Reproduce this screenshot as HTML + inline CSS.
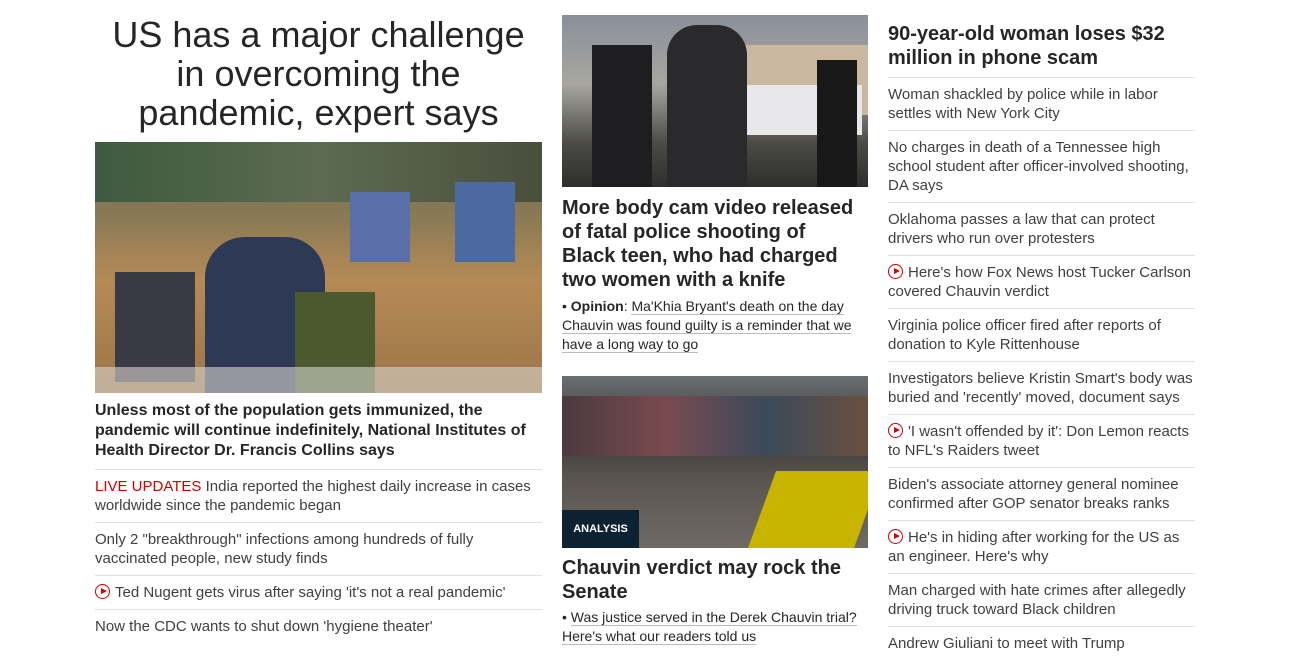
<!DOCTYPE html>
<html><head><meta charset="utf-8"><style>
*{margin:0;padding:0;box-sizing:border-box}
body{width:1290px;height:670px;overflow:hidden;background:#fff;font-family:"Liberation Sans",Arial,sans-serif;color:#262626;position:relative}
.col{position:absolute;top:0}
.h1{font-size:36px;line-height:39px;text-align:center;font-weight:400;color:#262626;margin-top:15px;padding:0 10px}
.img{position:relative;overflow:hidden}
.cap{font-weight:700;font-size:16px;line-height:20px;color:#262626}
.item{font-size:15px;line-height:19px;border-top:1px solid #e1e1e1;padding:7px 0 7px;color:#404040}
.live{color:#cc0000}
.play{display:inline-block;width:15px;height:15px;border:1.5px solid #cc0000;border-radius:50%;position:relative;vertical-align:-2px;margin-right:5px}
.play:after{content:"";position:absolute;left:4.5px;top:2.5px;border-left:6px solid #cc0000;border-top:3.5px solid transparent;border-bottom:3.5px solid transparent}
.h2{font-weight:700;font-size:20px;line-height:24px;color:#262626}
.sub{font-size:14px;line-height:19px;color:#262626}
.sub span.u{border-bottom:1px solid #bbb}
</style></head><body>
<div class="col" style="left:95px;width:447px">
 <h1 class="h1">US has a major challenge in overcoming the pandemic, expert says</h1>
 <div class="img" style="margin-top:10px;height:251px;background:linear-gradient(180deg,#6b6a55 0%,#8a7a55 30%,#b58a55 55%,#9c7448 100%)">
  <div style="position:absolute;left:0;top:0;width:447px;height:60px;background:linear-gradient(90deg,#3d5a3f,#5c6b52,#4a4e3c)"></div>
  <div style="position:absolute;left:110px;top:95px;width:120px;height:156px;background:#2e3a55;border-radius:40px 40px 0 0"></div>
  <div style="position:absolute;left:200px;top:150px;width:80px;height:101px;background:#4a5a2e"></div>
  <div style="position:absolute;left:20px;top:130px;width:80px;height:110px;background:#3a3a44"></div>
  <div style="position:absolute;left:255px;top:50px;width:60px;height:70px;background:#5a6fa8"></div>
  <div style="position:absolute;left:360px;top:40px;width:60px;height:80px;background:#4a6aa0"></div>
  <div style="position:absolute;left:0;top:225px;width:447px;height:26px;background:#d8d6d0;opacity:.6"></div>
 </div>
 <div class="cap" style="margin-top:8px;padding-bottom:8px">Unless most of the population gets immunized, the pandemic will continue indefinitely, National Institutes of Health Director Dr. Francis Collins says</div>
 <div class="item"><span class="live">LIVE UPDATES</span> India reported the highest daily increase in cases worldwide since the pandemic began</div>
 <div class="item">Only 2 "breakthrough" infections among hundreds of fully vaccinated people, new study finds</div>
 <div class="item"><span class="play"></span>Ted Nugent gets virus after saying 'it's not a real pandemic'</div>
 <div class="item">Now the CDC wants to shut down 'hygiene theater'</div>
</div>

<div class="col" style="left:562px;width:306px">
 <div class="img" style="margin-top:15px;height:172px;background:linear-gradient(180deg,#8a8f9a 0%,#a7a6a0 40%,#4b4a45 75%,#2e2e2c 100%)">
  <div style="position:absolute;left:175px;top:30px;width:131px;height:70px;background:#c9b7a0"></div>
  <div style="position:absolute;left:180px;top:70px;width:120px;height:50px;background:#e8e8ea"></div>
  <div style="position:absolute;left:30px;top:30px;width:60px;height:142px;background:#1e1e20"></div>
  <div style="position:absolute;left:105px;top:10px;width:80px;height:162px;background:#2a2a2c;border-radius:30px 30px 0 0"></div>
  <div style="position:absolute;left:255px;top:45px;width:40px;height:127px;background:#181818"></div>
 </div>
 <div class="h2" style="margin-top:9px;width:295px">More body cam video released of fatal police shooting of Black teen, who had charged two women with a knife</div>
 <div class="sub" style="margin-top:5px">• <b>Opinion</b>: <span class="u">Ma'Khia Bryant's death on the day Chauvin was found guilty is a reminder that we have a long way to go</span></div>
 <div class="img" style="margin-top:22px;height:172px;background:linear-gradient(180deg,#6a6f70 0%,#3a3a3a 35%,#5a5550 60%,#706a65 100%)">
  <div style="position:absolute;left:0;top:20px;width:306px;height:60px;background:linear-gradient(90deg,#4a3a40,#7a4a50,#3a4a5a,#6a5040)"></div>
  <div style="position:absolute;left:200px;top:95px;width:106px;height:77px;background:#c8b400;transform:skewX(-20deg)"></div>
  <div style="position:absolute;left:0;top:134px;width:77px;height:38px;background:#0c2233;color:#fff;font-size:11px;font-weight:700;display:flex;align-items:center;justify-content:center">ANALYSIS</div>
 </div>
 <div class="h2" style="margin-top:8px">Chauvin verdict may rock the Senate</div>
 <div class="sub" style="margin-top:4px">• <span class="u">Was justice served in the Derek Chauvin trial? Here's what our readers told us</span></div>
</div>

<div class="col" style="left:888px;width:307px">
 <div class="h2" style="margin-top:22px;padding-bottom:7px">90-year-old woman loses $32 million in phone scam</div>
 <div class="item">Woman shackled by police while in labor settles with New York City</div>
 <div class="item">No charges in death of a Tennessee high school student after officer-involved shooting, DA says</div>
 <div class="item">Oklahoma passes a law that can protect drivers who run over protesters</div>
 <div class="item"><span class="play"></span>Here's how Fox News host Tucker Carlson covered Chauvin verdict</div>
 <div class="item">Virginia police officer fired after reports of donation to Kyle Rittenhouse</div>
 <div class="item">Investigators believe Kristin Smart's body was buried and 'recently' moved, document says</div>
 <div class="item"><span class="play"></span>'I wasn't offended by it': Don Lemon reacts to NFL's Raiders tweet</div>
 <div class="item">Biden's associate attorney general nominee confirmed after GOP senator breaks ranks</div>
 <div class="item"><span class="play"></span>He's in hiding after working for the US as an engineer. Here's why</div>
 <div class="item">Man charged with hate crimes after allegedly driving truck toward Black children</div>
 <div class="item">Andrew Giuliani to meet with Trump</div>
</div>
</body></html>
